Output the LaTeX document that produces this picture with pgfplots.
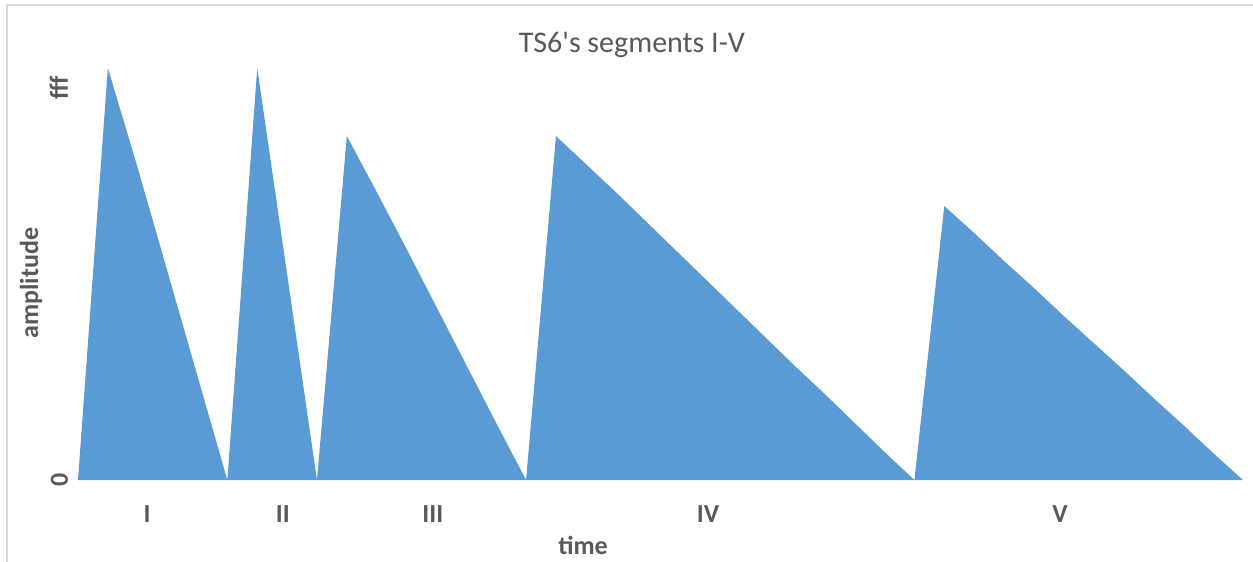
\documentclass[border=0pt]{standalone}
\usepackage{fontspec}
\setmainfont{Carlito}
\newfontfamily\plainfont{Carlito}
\usepackage{pgfplots}
\pgfplotsset{compat=1.18}
\definecolor{areablue}{HTML}{5B9BD5}
\definecolor{txtgray}{HTML}{595959}
\definecolor{framegray}{HTML}{D9D9D9}
\begin{document}
\begin{tikzpicture}
% chart frame (only top and left edges are visible)
\draw[framegray, line width=1pt] (3.5pt,0pt) -- (3.5pt,278.5pt) -- (626.5pt,278.5pt);
\begin{axis}[
    at={(39pt,41pt)}, anchor=south west,
    scale only axis,
    width=582.5pt, height=206pt,
    xmin=0, xmax=39, ymin=0, ymax=412,
    axis line style={draw=none},
    major tick length=0pt,
    xtick={2.31,6.86,11.88,21.09,32.88},
    xticklabels={I,II,III,IV,V},
    ytick={0,392},
    yticklabels={0,fff},
    /pgf/number format/assume math mode=true,
    ticklabel style={font=\fontsize{13}{15}\selectfont\bfseries, text=txtgray},
    xticklabel style={anchor=base, yshift=-21pt},
    yticklabel style={xshift=-5pt, rotate=90, anchor=base},
    title={TS6's segments I-V},
    title style={at={(axis description cs:0.4755,1.027)}, anchor=center,
        font=\plainfont\fontsize{15}{18}\selectfont, text=txtgray},
    xlabel={time},
    xlabel style={at={(axis description cs:0.4335,-0.158)}, anchor=center,
        font=\fontsize{13}{15}\selectfont\bfseries, text=txtgray},
    ylabel={amplitude},
    ylabel style={at={(axis description cs:-0.0403,0.478)}, anchor=center,
        font=\fontsize{13}{15}\selectfont\bfseries, text=txtgray},
    clip=false,
]
\addplot[fill=areablue, draw=none] coordinates {
    (0,0) (1,412) (2,312) (3,208) (4,104) (5,0)
    (6,412) (7,206) (8,0)
    (9,344) (10,288) (11,231) (12,173) (13,115) (14,57) (15,0)
    (16,344) (17,316) (18,288) (19,259) (20,230) (21,201) (22,172)
    (23,143) (24,114) (25,86) (26,57) (27,28) (28,0)
    (29,274) (30,247) (31,219) (32,192) (33,164) (34,137) (35,110)
    (36,82) (37,55) (38,27) (39,0)
} \closedcycle;
\end{axis}
\pgfresetboundingbox
\path (0,0) rectangle (626.5pt,281pt);
\end{tikzpicture}
\end{document}
